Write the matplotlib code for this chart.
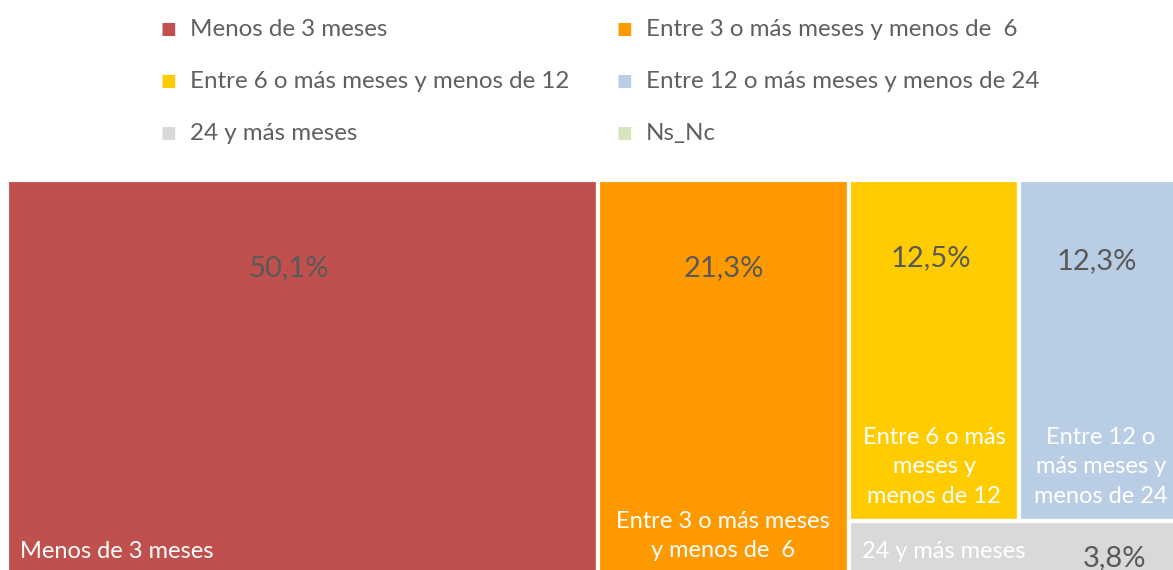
import matplotlib.pyplot as plt
from matplotlib.patches import Rectangle

categories = ["Menos de 3 meses", "Entre 3 o más meses y menos de  6",
              "Entre 6 o más meses y menos de 12", "Entre 12 o más meses y menos de 24",
              "24 y más meses", "Ns_Nc"]
values = [50.1, 21.3, 12.5, 12.3, 3.8, 0.0]
value_labels = ["50,1%", "21,3%", "12,5%", "12,3%", "3,8%", ""]
tile_labels = ["Menos de 3 meses", "Entre 3 o más meses\ny menos de  6",
               "Entre 6 o más\nmeses y\nmenos de 12", "Entre 12 o\nmás meses y\nmenos de 24",
               "24 y más meses", ""]
colors = ["#C0504D", "#FF9900", "#FFCC00", "#B9CDE5", "#D9D9D9", "#D7E4BD"]

plt.rcParams['font.family'] = ['Lato', 'DejaVu Sans']

W, H = 1180.0, 393.0
total = sum(values)

# layout: two full-height columns, then a column with two rows
tiles = []
x = 0.0
for i in range(2):
    w = W * values[i] / total
    tiles.append((x, 0.0, w, H))
    x += w
col_w = W - x
col_total = sum(values[2:])
top_total = values[2] + values[3]
top_h = H * top_total / col_total
xx = x
for i in (2, 3):
    w = col_w * values[i] / top_total
    tiles.append((xx, 0.0, w, top_h))
    xx += w
bot_total = values[4] + values[5]
xx = x
for i in (4, 5):
    w = col_w * values[i] / bot_total
    tiles.append((xx, top_h, w, H - top_h))
    xx += w

fig = plt.figure(figsize=(11.73, 5.70), dpi=100)
ax = fig.add_axes([6.5 / 1173, (570 - 180 - H) / 570, W / 1173, H / 570])
ax.set_xlim(0, W)
ax.set_ylim(H, 0)
ax.axis('off')

grey = "#595959"
lab_fs = 17
val_fs = 21
ls = 1.5
for i, (tx, ty, tw, th) in enumerate(tiles):
    if tw <= 0:
        continue
    ax.add_patch(Rectangle((tx, ty), tw, th, facecolor=colors[i], edgecolor="white", lw=3))
    cx = tx + tw / 2
    if i == 0:
        ax.text(tx + 13, ty + th - 22, tile_labels[i], color="white", fontsize=lab_fs, ha="left", va="center")
        ax.text(cx - 14, ty + 88, value_labels[i], color=grey, fontsize=val_fs, ha="center", va="center")
    elif i == 1:
        ax.text(cx, ty + th - 37, tile_labels[i], color="white", fontsize=lab_fs, ha="center", va="center",
                linespacing=ls)
        ax.text(cx, ty + 88, value_labels[i], color=grey, fontsize=val_fs, ha="center", va="center")
    elif i in (2, 3):
        off = -3 if i == 2 else -6
        ax.text(cx + (0 if i == 2 else -2), ty + th - 54, tile_labels[i], color="white", fontsize=lab_fs,
                ha="center", va="center", linespacing=ls)
        ax.text(cx + off, ty + 78 + (i - 2) * 3, value_labels[i], color=grey, fontsize=val_fs, ha="center", va="center")
    elif i == 4:
        ax.text(tx + 13, ty + th - 22, tile_labels[i], color="white", fontsize=lab_fs, ha="left", va="center")
        ax.text(tx + tw - 72, ty + th - 15, value_labels[i], color=grey, fontsize=val_fs, ha="center", va="center")

# legend
lx = [168 / 1173, 624 / 1173]
ly = [1 - 29 / 570, 1 - 81 / 570, 1 - 133 / 570]
for i, name in enumerate(categories):
    r, c = divmod(i, 2)
    fig.text(lx[c], ly[r], "\u25A0", color=colors[i], fontsize=12, ha="center", va="center",
             family=['DejaVu Sans'])
    fig.text(lx[c] + 22 / 1173, ly[r], name, color="#606060", fontsize=17.4, ha="left", va="center")

fig.savefig("out.png", dpi=100)
